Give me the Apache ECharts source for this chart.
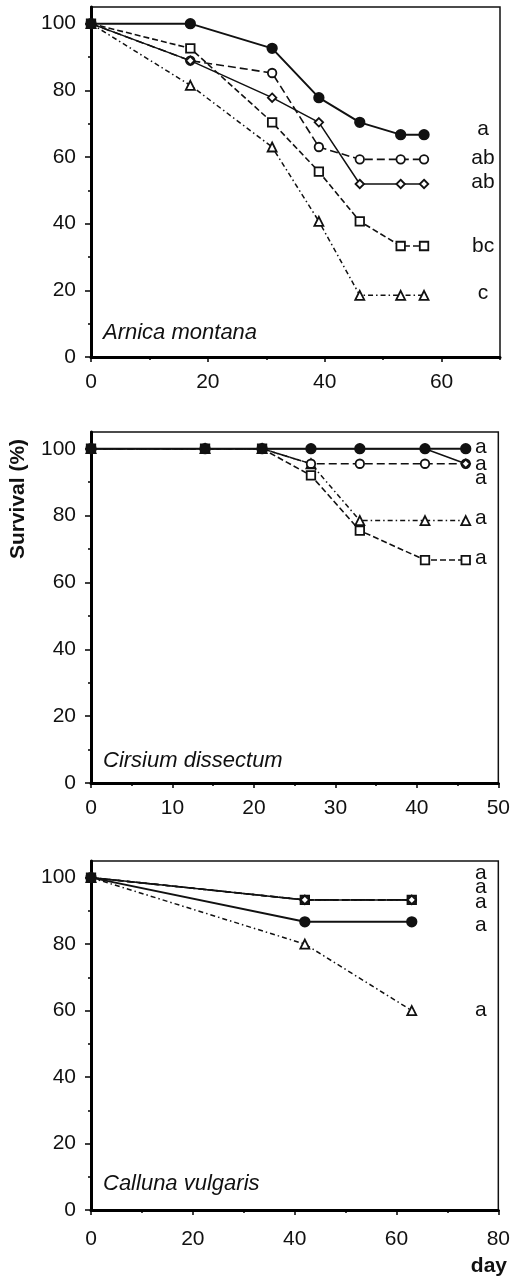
<!DOCTYPE html>
<html>
<head>
<meta charset="utf-8">
<script src="https://cdn.jsdelivr.net/npm/echarts@6/dist/echarts.min.js"></script>
<style>
  html, body { margin: 0; padding: 0; background: #fff; }
  #chart { width: 513px; height: 1278px; }
</style>
</head>
<body>
<div id="chart"></div>
<script>
// ---------------- DATA ----------------
// Series order in every panel: filled circle, open circle, diamond, square, triangle
const arnicaDays = [0, 17, 31, 39, 46, 53, 57];
const arnicaFilledCircle = [100, 100, 92.6, 77.8, 70.4, 66.7, 66.7];
const arnicaOpenCircle   = [100, 88.9, 85.2, 63.0, 59.3, 59.3, 59.3];
const arnicaDiamond      = [100, 88.9, 77.8, 70.4, 51.9, 51.9, 51.9];
const arnicaSquare       = [100, 92.6, 70.4, 55.6, 40.7, 33.3, 33.3];
const arnicaTriangle     = [100, 81.5, 63.0, 40.7, 18.5, 18.5, 18.5];
const arnicaLetters = ['a', 'ab', 'ab', 'bc', 'c'];

const cirsiumDays = [0, 14, 21, 27, 33, 41, 46];
const cirsiumFilledCircle = [100, 100, 100, 100, 100, 100, 100];
const cirsiumOpenCircle   = [100, 100, 100, 95.5, 95.5, 95.5, 95.5];
const cirsiumDiamond      = [100, 100, 100, 100, 100, 100, 95.5];
const cirsiumSquare       = [100, 100, 100, 92.0, 75.5, 66.7, 66.7];
const cirsiumTriangle     = [100, 100, 100, 95.5, 78.5, 78.5, 78.5];
const cirsiumLetters = ['a', 'a', 'a', 'a', 'a'];

const callunaDays = [0, 42, 63];
const callunaFilledCircle = [100, 86.7, 86.7];
const callunaOpenCircle   = [100, 93.3, 93.3];
const callunaDiamond      = [100, 93.3, 93.3];
const callunaSquare       = [100, 93.3, 93.3];
const callunaTriangle     = [100, 80.0, 60.0];
const callunaLetters = ['a', 'a', 'a', 'a', 'a'];

const speciesNames = ['Arnica montana', 'Cirsium dissectum', 'Calluna vulgaris'];
const yMajorTicks = [0, 20, 40, 60, 80, 100];
const yMinorTicks = [10, 30, 50, 70, 90];
const arnicaXTicks = [0, 20, 40, 60];
const arnicaXMinor = [10, 30, 50, 70];
const cirsiumXTicks = [0, 10, 20, 30, 40, 50];
const cirsiumXMinor = [5, 15, 25, 35, 45];
const callunaXTicks = [0, 20, 40, 60, 80];
const callunaXMinor = [10, 30, 50, 70];
const yAxisTitle = 'Survival (%)';
const xAxisTitle = 'day';

// ---------------- LAYOUT / STYLE ----------------
const FONT = '"Liberation Sans", Arial, Helvetica, sans-serif';
const INK = '#111';

const panels = [
  { grid: { left: 91, top: 7, width: 409, height: 350 }, xMax: 70,
    days: arnicaDays, xTicks: arnicaXTicks, xMinor: arnicaXMinor,
    values: [arnicaFilledCircle, arnicaOpenCircle, arnicaDiamond, arnicaSquare, arnicaTriangle],
    letters: arnicaLetters, labelDist: 59, labelDy: [-5, -1, -2, 0, -2],
    speciesY: 334, xLabelMargin: 15 },
  { grid: { left: 91, top: 432, width: 409, height: 351 }, xMax: 50,
    days: cirsiumDays, xTicks: cirsiumXTicks, xMinor: cirsiumXMinor,
    values: [cirsiumFilledCircle, cirsiumOpenCircle, cirsiumDiamond, cirsiumSquare, cirsiumTriangle],
    letters: cirsiumLetters, labelDist: 15, labelDy: [-2, 0, 14, -2, -2],
    speciesY: 762, xLabelMargin: 15 },
  { grid: { left: 91, top: 861, width: 409, height: 349 }, xMax: 80,
    days: callunaDays, xTicks: callunaXTicks, xMinor: callunaXMinor,
    values: [callunaFilledCircle, callunaOpenCircle, callunaDiamond, callunaSquare, callunaTriangle],
    letters: callunaLetters, labelDist: 69, labelDy: [3, -27, -13, 2, 0],
    speciesY: 1185, xLabelMargin: 19 }
];

const seriesStyles = [
  { name: 'filled circle', symbol: 'circle', size: 9.5, fill: INK, lineType: 'solid', lineWidth: 2, z: 7 },
  { name: 'open circle', symbol: 'circle', size: 8.5, fill: '#fff', lineType: [8, 4], lineWidth: 1.6, z: 5 },
  { name: 'diamond', symbol: 'diamond', size: 8.5, fill: '#fff', lineType: 'solid', lineWidth: 1.5, z: 6 },
  { name: 'square', symbol: 'rect', size: 8.5, fill: '#fff', lineType: [6, 3], lineWidth: 1.6, z: 4 },
  { name: 'triangle', symbol: 'triangle', size: 9, fill: '#fff', lineType: [5, 3, 1.5, 3], lineWidth: 1.5, z: 3 }
];

const grids = [], xAxes = [], yAxes = [], series = [], graphics = [];

panels.forEach((p, i) => {
  grids.push(Object.assign({ show: true, borderColor: INK, borderWidth: 1.5, backgroundColor: 'transparent', containLabel: false }, p.grid));
  xAxes.push({
    gridIndex: i, type: 'value', min: 0, max: p.xMax, position: 'bottom',
    axisLine: { show: true, onZero: false, lineStyle: { color: '#000', width: 3 } },
    axisTick: { show: true, customValues: p.xTicks, length: 5, lineStyle: { color: '#000', width: 1.5 } },
    axisLabel: { show: true, customValues: p.xTicks, fontSize: 21, color: INK, margin: p.xLabelMargin, fontFamily: FONT },
    splitLine: { show: false }
  });
  xAxes.push({
    gridIndex: i, type: 'value', min: 0, max: p.xMax, position: 'bottom',
    axisLine: { show: false },
    axisTick: { show: true, customValues: p.xMinor, length: 3, lineStyle: { color: '#000', width: 1.5 } },
    axisLabel: { show: false },
    splitLine: { show: false }
  });
  yAxes.push({
    gridIndex: i, type: 'value', min: 0, max: 105, position: 'left',
    axisLine: { show: true, onZero: false, lineStyle: { color: '#000', width: 3 } },
    axisTick: { show: true, customValues: yMajorTicks, length: 6, lineStyle: { color: '#000', width: 1.5 } },
    axisLabel: { show: true, customValues: yMajorTicks, fontSize: 21, color: INK, margin: 15, fontFamily: FONT },
    splitLine: { show: false }
  });
  yAxes.push({
    gridIndex: i, type: 'value', min: 0, max: 105, position: 'left',
    axisLine: { show: false },
    axisTick: { show: true, customValues: yMinorTicks, length: 3, lineStyle: { color: '#000', width: 1.5 } },
    axisLabel: { show: false },
    splitLine: { show: false }
  });

  seriesStyles.forEach((s, k) => {
    series.push({
      type: 'line', name: s.name,
      xAxisIndex: i * 2, yAxisIndex: i * 2,
      data: p.days.map((d, j) => [d, p.values[k][j]]),
      symbol: s.symbol, symbolSize: s.size, showSymbol: true,
      itemStyle: { color: s.fill, borderColor: INK, borderWidth: 1.8 },
      lineStyle: { color: INK, width: s.lineWidth, type: s.lineType },
      z: s.z,
      animation: false,
      endLabel: {
        show: true,
        formatter: () => p.letters[k],
        distance: p.labelDist,
        offset: [0, p.labelDy[k]],
        align: 'center', verticalAlign: 'middle',
        fontSize: 21, color: INK, fontFamily: FONT
      }
    });
  });

  graphics.push({
    type: 'text', left: 103, top: p.speciesY - 12,
    style: { text: speciesNames[i], font: 'italic 22px ' + FONT, fill: INK }
  });
});

graphics.push({
  type: 'text', x: 18.5, y: 499, rotation: Math.PI / 2,
  style: { text: yAxisTitle, font: 'bold 21px ' + FONT, fill: INK, textAlign: 'center', textVerticalAlign: 'middle' }
});
graphics.push({
  type: 'text', x: 507, y: 1266,
  style: { text: xAxisTitle, font: 'bold 21px ' + FONT, fill: INK, textAlign: 'right', textVerticalAlign: 'middle' }
});

const chart = echarts.init(document.getElementById('chart'), null, { renderer: 'canvas' });
chart.setOption({
  animation: false,
  backgroundColor: '#fff',
  grid: grids,
  xAxis: xAxes,
  yAxis: yAxes,
  series: series,
  graphic: graphics
});
</script>
</body>
</html>
